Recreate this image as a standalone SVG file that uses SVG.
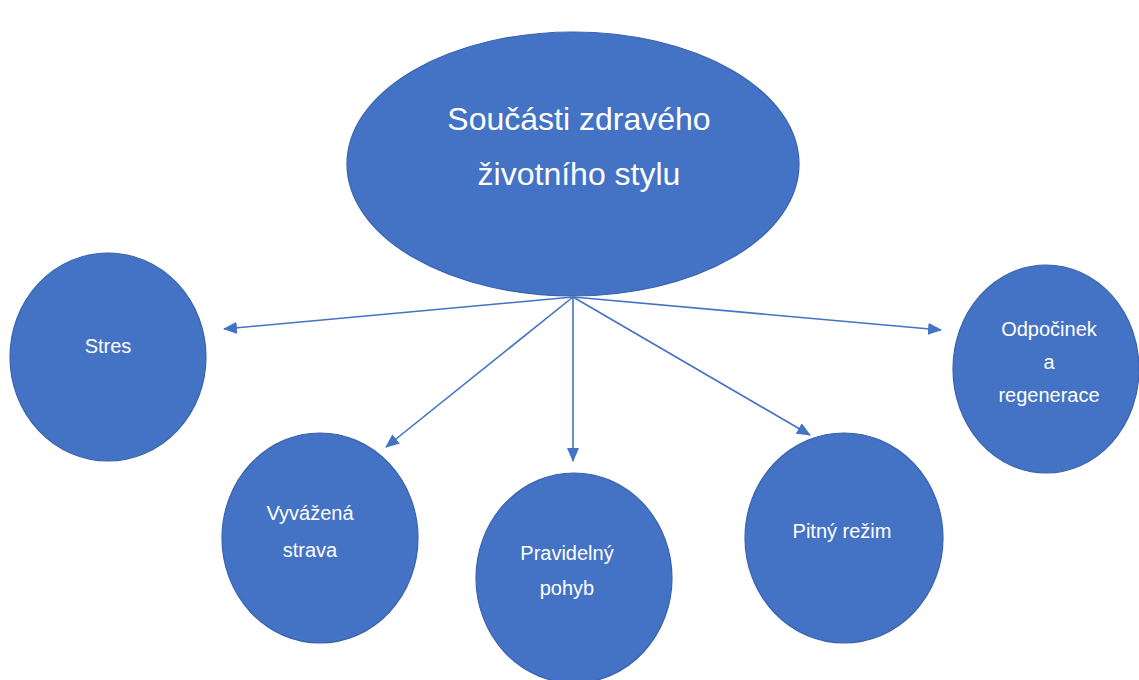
<svg xmlns="http://www.w3.org/2000/svg" width="1139" height="680" viewBox="0 0 1139 680">
<defs>
<style>
.n{fill:#4472C4;stroke:#3A63AE;stroke-width:1.2}
.t{fill:#ffffff;font-family:"Liberation Sans",Arial,sans-serif;font-size:20px;text-anchor:middle}
.big{font-size:32px}
.c{stroke:#4472C4;stroke-width:1.6;fill:none;marker-end:url(#ah)}
</style>
<marker id="ah" markerUnits="userSpaceOnUse" markerWidth="14" markerHeight="12" refX="13" refY="6" orient="auto">
<path d="M0,0 L14,6 L0,12 Z" fill="#4472C4"/>
</marker>
</defs>
<rect width="1139" height="680" fill="#ffffff"/>
<g id="connectors">
<line class="c" x1="573" y1="297" x2="224" y2="329"/>
<line class="c" x1="573" y1="297" x2="386" y2="447"/>
<line class="c" x1="573" y1="297" x2="573" y2="461"/>
<line class="c" x1="573" y1="297" x2="810" y2="435"/>
<line class="c" x1="573" y1="297" x2="941" y2="330"/>
</g>
<g id="main">
<ellipse class="n" cx="573" cy="164" rx="226" ry="132"/>
<text class="t big" x="579" y="130">Součásti zdravého</text>
<text class="t big" x="579" y="185">životního stylu</text>
</g>
<g id="stres">
<ellipse class="n" cx="108" cy="357" rx="98" ry="104"/>
<text class="t" x="108" y="353">Stres</text>
</g>
<g id="odpocinek">
<ellipse class="n" cx="1046" cy="369" rx="93" ry="104"/>
<text class="t" x="1049" y="336">Odpočinek</text>
<text class="t" x="1049" y="369">a</text>
<text class="t" x="1049" y="402">regenerace</text>
</g>
<g id="vyvazena">
<ellipse class="n" cx="320" cy="538" rx="98" ry="105"/>
<text class="t" x="310" y="520">Vyvážená</text>
<text class="t" x="310" y="557">strava</text>
</g>
<g id="pravidelny">
<ellipse class="n" cx="574" cy="578" rx="98" ry="105"/>
<text class="t" x="567" y="560">Pravidelný</text>
<text class="t" x="567" y="595">pohyb</text>
</g>
<g id="pitny">
<ellipse class="n" cx="844" cy="538" rx="99" ry="105"/>
<text class="t" x="842" y="538">Pitný režim</text>
</g>
</svg>
